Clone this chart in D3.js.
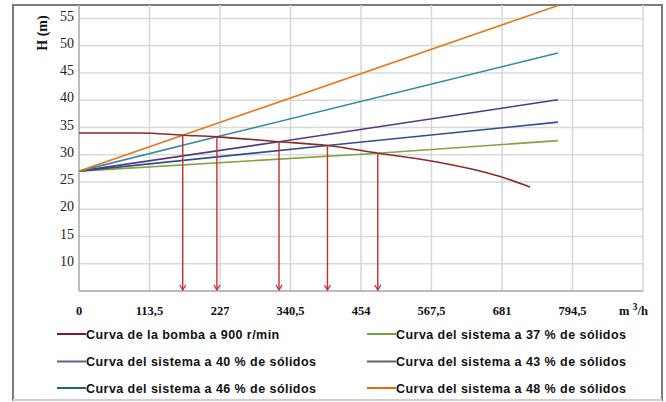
<!DOCTYPE html>
<html lang="es">
<head>
<meta charset="UTF-8">
<title>Curvas bomba y sistema</title>
<script src="https://d3js.org/d3.v7.min.js"></script>
<style>
    body { margin: 0; background: #fff; }
    .tick-y { font-family: "Liberation Serif", serif; font-size: 14px; fill: #222; }
    .tick-x { font-family: "Liberation Serif", serif; font-size: 12.5px; font-weight: bold; fill: #111; }
    .axis-title { font-family: "Liberation Serif", serif; font-size: 14px; font-weight: bold; fill: #111; }
    .legend text { font-family: "Liberation Sans", Arial, sans-serif; font-size: 12.5px; font-weight: bold; letter-spacing: 0.45px; fill: #111; }
</style>
</head>
<body>
<svg id="chart" width="666" height="402"></svg>
<script>
    // tick labels
    const xTicks = [0, 113.5, 227, 340.5, 454, 567.5, 681, 794.5];
    const xTickLabels = ["0", "113,5", "227", "340,5", "454", "567,5", "681", "794,5"];
    const yTicks = [10, 15, 20, 25, 30, 35, 40, 45, 50, 55];

    // pump curve at 900 r/min, [Q (m3/h), H (m)]
    const pumpCurve = [[0, 34.0], [98, 34.0], [167, 33.6], [222, 33.3], [322, 32.4], [400, 31.7],
                       [481, 30.3], [565, 28.9], [678, 26.0], [726, 24.1]];

    // system curves, [Q, H]
    const sys37 = [[0, 27], [481, 30.3], [771, 32.6]];
    const sys40 = [[0, 27], [400, 31.7], [771, 36.0]];
    const sys43 = [[0, 27], [322, 32.4], [771, 40.1]];
    const sys46 = [[0, 27], [222, 33.3], [771, 48.7]];
    const sys48 = [[0, 27], [167, 33.6], [771, 57.4]];

    // operating points (pump x system), arrows drop from these
    const operatingQ = [167, 222, 322, 400, 481];
    const operatingH = [33.6, 33.3, 32.4, 31.7, 30.3];

    const seriesNames = ["Curva de la bomba a 900 r/min", "Curva del sistema a 37 % de sólidos",
                         "Curva del sistema a 40 % de sólidos", "Curva del sistema a 43 % de sólidos",
                         "Curva del sistema a 46 % de sólidos", "Curva del sistema a 48 % de sólidos"];
    const seriesColors = ["#8b2a2a", "#7fa540", "#2d4f8e", "#54397e", "#2f8aa3", "#e5791f"];
    const legendColors = ["#7a1f1f", "#77a03c", "#5a6394", "#5c5c78", "#25637a", "#e46c0a"];

    const svg = d3.select("#chart");
    const plotLeft = 79, plotRight = 643, plotTop = 5, plotBottom = 291;

    const x = d3.scaleLinear().domain([0, 908]).range([plotLeft, plotRight]);
    const y = d3.scaleLinear().domain([5, 57.5]).range([plotBottom, plotTop]);

    // outer frame
    svg.append("rect")
        .attr("x", 13).attr("y", 5).attr("width", 649).attr("height", 395)
        .attr("fill", "none").attr("stroke", "#7b7b7b").attr("stroke-width", 2);
    svg.append("line")
        .attr("x1", 13).attr("x2", 662).attr("y1", 400).attr("y2", 400)
        .attr("stroke", "#d0d0d0").attr("stroke-width", 2);

    // grid
    const grid = svg.append("g");
    grid.selectAll("line.h").data(yTicks).enter().append("line")
        .attr("x1", plotLeft).attr("x2", plotRight)
        .attr("y1", d => y(d)).attr("y2", d => y(d))
        .attr("stroke", "#d9d9d9").attr("stroke-width", 1.5);
    grid.selectAll("line.v").data(xTicks.slice(1).concat([908])).enter().append("line")
        .attr("x1", d => x(d)).attr("x2", d => x(d))
        .attr("y1", plotTop).attr("y2", plotBottom)
        .attr("stroke", "#d6d6d6").attr("stroke-width", 1.5);

    // axes lines
    svg.append("line").attr("x1", plotLeft).attr("x2", plotLeft).attr("y1", plotTop).attr("y2", plotBottom)
        .attr("stroke", "#a6a6a6").attr("stroke-width", 1.5);
    svg.append("line").attr("x1", plotLeft).attr("x2", plotRight).attr("y1", plotBottom).attr("y2", plotBottom)
        .attr("stroke", "#a6a6a6").attr("stroke-width", 1.5);

    // tick labels
    svg.selectAll("text.tick-y").data(yTicks).enter().append("text")
        .attr("class", "tick-y")
        .attr("x", 74).attr("y", d => y(d) + 2)
        .attr("text-anchor", "end")
        .text(d => d);

    svg.selectAll("text.tick-x").data(xTicks).enter().append("text")
        .attr("class", "tick-x")
        .attr("x", d => x(d)).attr("y", 315)
        .attr("text-anchor", "middle")
        .text((d, i) => xTickLabels[i]);

    const unit = svg.append("text").attr("class", "tick-x").attr("x", 619).attr("y", 315);
    unit.append("tspan").text("m ");
    unit.append("tspan").attr("dy", -5).attr("font-size", 10).text("3");
    unit.append("tspan").attr("dy", 5).text("/h");

    svg.append("text")
        .attr("class", "axis-title")
        .attr("transform", "translate(47,33) rotate(-90)")
        .attr("text-anchor", "middle")
        .text("H (m)");

    // curves
    svg.append("clipPath").attr("id", "plot-clip").append("rect")
        .attr("x", plotLeft).attr("y", plotTop)
        .attr("width", plotRight - plotLeft).attr("height", plotBottom - plotTop);

    const line = d3.line().x(d => x(d[0])).y(d => y(d[1]));
    const pumpLine = d3.line().x(d => x(d[0])).y(d => y(d[1])).curve(d3.curveMonotoneX);

    const curves = [sys37, sys40, sys43, sys46, sys48];
    const plot = svg.append("g").attr("clip-path", "url(#plot-clip)");
    curves.forEach((c, i) => {
        plot.append("path").datum(c)
            .attr("d", line)
            .attr("fill", "none")
            .attr("stroke", seriesColors[i + 1])
            .attr("stroke-width", 1.6);
    });
    plot.append("path").datum(pumpCurve)
        .attr("d", pumpLine)
        .attr("fill", "none")
        .attr("stroke", seriesColors[0])
        .attr("stroke-width", 1.6);

    // arrows down to the axis
    const arrowColor = "#c0302f";
    const arrows = svg.append("g");
    operatingQ.forEach((q, i) => {
        const ax = x(q);
        arrows.append("line")
            .attr("x1", ax).attr("x2", ax)
            .attr("y1", y(operatingH[i])).attr("y2", plotBottom - 1)
            .attr("stroke", arrowColor).attr("stroke-width", 1.4);
        arrows.append("path")
            .attr("d", `M${ax - 3},${plotBottom - 6}L${ax},${plotBottom - 1}L${ax + 3},${plotBottom - 6}`)
            .attr("fill", "none").attr("stroke", arrowColor).attr("stroke-width", 1.3);
    });

    // legend
    const legend = svg.append("g").attr("class", "legend");
    const legendX = [57, 367];
    const legendY = [334, 361.5, 388];
    seriesNames.forEach((name, i) => {
        const lx = legendX[i % 2], ly = legendY[Math.floor(i / 2)];
        legend.append("line")
            .attr("x1", lx).attr("x2", lx + 29).attr("y1", ly).attr("y2", ly)
            .attr("stroke", legendColors[i]).attr("stroke-width", 2);
        legend.append("text")
            .attr("x", lx + 29).attr("y", ly + 4.5)
            .text(name);
    });
</script>
</body>
</html>
